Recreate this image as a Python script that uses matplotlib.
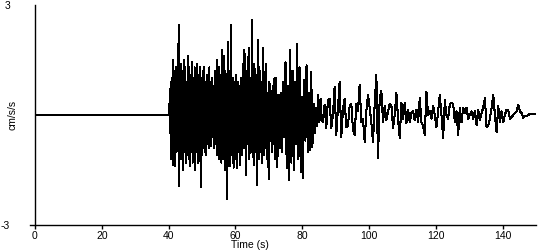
import numpy as np
import matplotlib
matplotlib.use('Agg')
from matplotlib import pyplot as plt

plt.rcParams['font.family'] = ['Liberation Sans', 'DejaVu Sans']

# acceleration trace (cm/s/s) in pieces
# quiet part before the first arrival
pre_t = [0.0, 40.2]
pre_vals = [0.0, 0.0]

# strong shaking, 40.2 s on, every 0.2 s
strong_t0, strong_dt = 40.2, 0.2
strong_vals = [
    0.3, -0.5, 0.9, -1.2, 1.0, -1.36, 1.5, -1.3, 1.2, -1.4,
    1.3, -1.0, 1.1, -0.9, 2.45, -1.95, 1.0, -1.2, 1.4, -1.1,
    1.2, -1.5, 1.5, -1.0, 1.3, -1.3, 0.9, -1.1, 1.6, -1.2,
    1.3, -1.4, 1.1, -1.0, 1.45, -1.3, 1.0, -1.2, 1.3, -1.5,
    1.2, -1.0, 1.4, -1.3, 1.1, -1.2, 1.3, -1.96, 1.0, -1.1,
    1.2, -0.9, 1.3, -1.0, 0.9, -1.1, 1.1, -0.8, 0.95, -0.9,
    1.3, -0.7, 0.9, -0.85, 1.0, -0.6, 0.8, -0.9, 1.2, -0.8,
    1.0, -1.1, 1.5, -1.0, 1.3, -1.2, 1.1, -0.7, -1.3, 1.77,
    1.4, -1.2, 1.6, -1.5, 1.2, 0.6, -2.29, 0.9, 2.0, -1.4,
]

# big swings, 58.2 s on, every 0.25 s
mid_t0, mid_dt = 58.2, 0.25
mid_vals = [
    1.2, -1.4, 2.45, -1.1, 1.0, -1.44, 0.9, -1.2, 1.1, -1.44,
    0.9, -1.0, 0.8, -1.36, 1.0, -1.1, 1.4, -0.9, 1.77, 0.7,
    -1.63, 1.2, -0.8, 1.83, -1.2, 1.0, -1.0, 2.6, 0.5, -1.36,
    1.4, -1.0, 1.1, -1.9, 2.04, -1.2, 1.3, -1.0, 0.9, -1.3,
    1.83, -1.1, 1.17, -0.9, 1.4, -1.2, 0.6, -1.75, 0.9, -0.7,
    0.65, -1.0, 0.8, -0.8, 1.0, -1.2,
]

# dying out, 72.2 s on, every 0.35 s
late_t0, late_dt = 72.2, 0.35
late_vals = [
    1.0, -1.42, 0.55, -0.9, 0.6, -1.0, 0.9, -0.6, 1.44, -1.44,
    0.8, -1.77, 1.77, -1.3, 1.2, -1.5, 0.9, -0.8, 1.93, -1.2,
    1.3, -1.55, 0.5, -1.72, 0.95, -0.7, 1.36, -1.0, 0.6, -0.95,
    1.17, -0.87, 0.3, -0.5, 0.2, -0.3, 0.55, -0.2, 0.45, -0.1,
]

# coda, 86.2 s on, every 0.5 s
coda_t0, coda_dt = 86.2, 0.5
coda_vals = [
    -0.2, 0.27, -0.35, 0.4, 0.44, -0.35, 0.0, 0.76, -0.54, 0.2,
    0.9, -0.6, 0.15, 0.44, -0.33, -0.3, 0.25, 0.3, -0.4, -0.54,
    0.3, 0.1, 0.82, -0.2, -0.1, -0.73, 0.1, 0.55, 0.2, -0.2,
    -0.73, 0.3, 1.09, -1.17, 0.45, 0.65, -0.2, 0.25, -0.15, 0.1,
    0.3, 0.27, -0.35, 0.0, 0.6, -0.1, -0.63, 0.33, -0.1, 0.33,
    -0.22, 0.15, -0.2, 0.05, 0.1, -0.15, 0.15, -0.2, 0.46, -0.2,
    -0.3, -0.54, 0.63, 0.0, 0.1, -0.1, 0.25, 0.0, -0.33, 0.1,
    0.54, 0.0, -0.63, 0.4, 0.0, -0.1, 0.3, 0.33, 0.3, -0.2,
    0.1, -0.54, 0.2, -0.19, 0.2, 0.05, 0.2, -0.1, 0.0, 0.1,
    -0.1, 0.1, -0.27, 0.15, -0.15, 0.05, 0.2, 0.46, -0.33, -0.3,
    -0.1, 0.2, 0.54, 0.0, -0.46, 0.25, -0.2, 0.1, -0.19, 0.0,
    0.15, 0.12, -0.1, -0.05, 0.0, 0.05, 0.1, 0.27, 0.1, 0.05,
    -0.08, -0.03, -0.03, 0.0, 0.03, 0.03, 0.03, 0.03,
]

x_ticks = [0, 20, 40, 60, 80, 100, 120, 140]
y_ticks = [-3, 3]

# stitch the pieces together
def seg_times(t0, dt, vals):
    return t0 + dt * np.arange(len(vals))

t = np.concatenate([seg_times(strong_t0, strong_dt, strong_vals),
                    seg_times(mid_t0, mid_dt, mid_vals),
                    seg_times(late_t0, late_dt, late_vals),
                    seg_times(coda_t0, coda_dt, coda_vals)])
acc = np.concatenate([strong_vals, mid_vals, late_vals, coda_vals])

fig = plt.figure(figsize=(5.5, 2.5), dpi=100)
ax = fig.add_axes([35/550, 25/250, 501/550, 220/250])

ax.plot(pre_t, pre_vals, color='black', lw=1.1, antialiased=False)  # flat trace looks a bit heavier in the original
ax.plot(t, acc, color='black', lw=0.75, antialiased=False)

ax.set_xlim(0, 150)
ax.set_ylim(-3, 3)
ax.spines['top'].set_visible(False)
ax.spines['right'].set_visible(False)
ax.spines['left'].set_linewidth(1)
ax.spines['bottom'].set_linewidth(1)
ax.spines['bottom'].set_bounds(-1.5, 150)

ax.set_xticks(x_ticks)
ax.set_xticklabels([str(v) for v in x_ticks])
ax.set_yticks(y_ticks)
ax.set_yticklabels([str(v) for v in y_ticks])
ax.tick_params(axis='x', direction='out', length=3, width=1, pad=1, labelsize=7.5)
ax.tick_params(axis='y', length=0, pad=18, labelsize=7.5)

ax.set_xlabel('Time (s)', fontsize=7.5)
ax.xaxis.set_label_coords(0.43, -0.068)
ax.set_ylabel('cm/s/s', fontsize=7.5)
ax.yaxis.set_label_coords(-0.035, 0.5)

fig.savefig('out.png', dpi=100)
